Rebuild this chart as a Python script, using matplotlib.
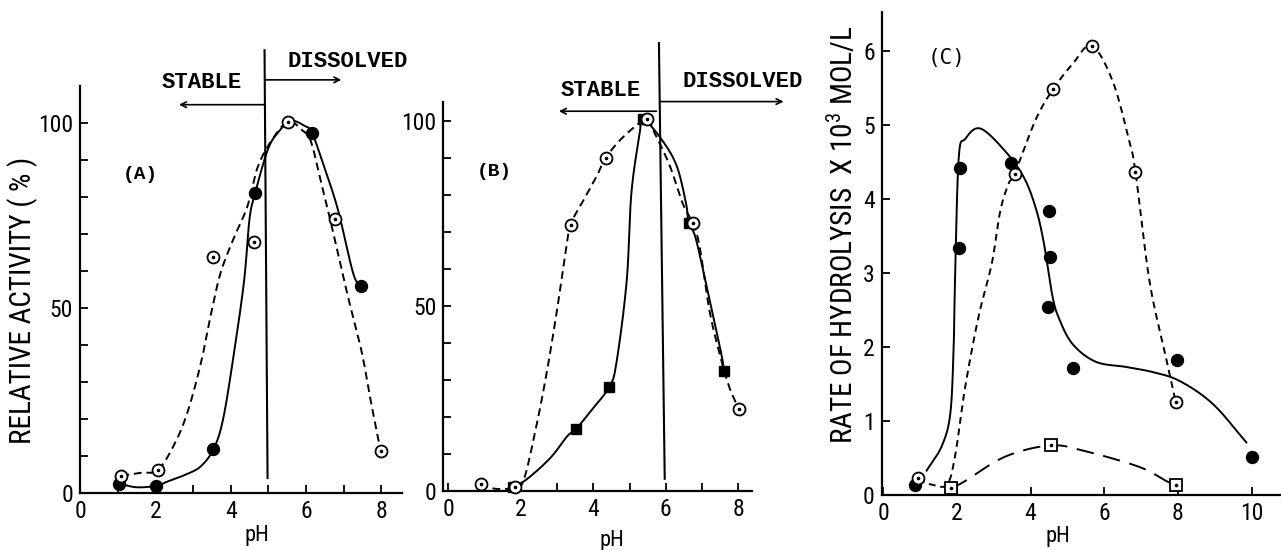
import numpy as np
import matplotlib
matplotlib.use("Agg")
import matplotlib.pyplot as plt
from matplotlib import font_manager

# ---------------- data ----------------
# Panel A : relative activity (%) vs pH
A_filled_x = [1.04, 2.03, 3.54, 4.65, 6.16, 7.45]
A_filled_y = [2.6, 2.0, 11.8, 81.0, 97.3, 55.9]
A_open_x = [1.10, 2.06, 3.54, 4.61, 5.52, 6.78, 7.98]
A_open_y = [4.7, 6.2, 63.9, 67.7, 100.3, 74.1, 11.5]
# hand-drawn curves (points along the drawn lines)
A_solid_cx = [1.04, 1.5, 2.03, 2.31, 2.8, 3.2, 3.54, 3.8, 4.1, 4.36, 4.5, 4.65, 4.98, 5.25, 5.6, 5.96, 6.16, 6.49, 6.85, 7.25, 7.45]
A_solid_cy = [2.6, 1.6, 2.0, 3.1, 5.0, 7.2, 11.8, 20.0, 38.6, 57.6, 74.0, 81.0, 92.6, 97.3, 100.5, 99.2, 97.3, 87.9, 76.5, 59.5, 55.9]
A_dash_cx = [1.10, 1.6, 2.06, 2.48, 2.84, 3.2, 3.47, 3.73, 4.08, 4.44, 4.71, 5.07, 5.52, 5.9, 6.13, 6.4, 6.67, 7.1, 7.47, 7.73, 7.98]
A_dash_cy = [4.7, 5.5, 6.2, 12.7, 21.4, 34.7, 48.0, 59.4, 68.8, 77.3, 87.8, 95.0, 100.3, 98.0, 95.0, 84.0, 72.7, 53.7, 38.6, 24.4, 11.5]

# Panel B
B_open_x = [0.89, 1.83, 3.37, 4.34, 5.47, 6.74, 8.02]
B_open_y = [1.9, 0.95, 71.9, 90.0, 100.5, 72.4, 22.1]
B_sq_x = [1.77, 3.52, 4.44, 5.36, 6.63, 7.61]
B_sq_y = [0.95, 16.7, 28.1, 100.5, 72.4, 32.4]
B_dash_cx = [0.89, 1.3, 1.83, 2.09, 2.45, 2.73, 3.0, 3.23, 3.37, 3.73, 4.1, 4.34, 4.83, 5.47, 5.65, 6.1, 6.47, 6.74, 6.93, 7.2, 7.47, 7.75, 8.02]
B_dash_cy = [1.9, 0.6, 0.95, 3.3, 18.6, 32.9, 49.0, 64.3, 71.9, 78.6, 85.2, 90.0, 95.7, 100.5, 97.5, 88.1, 77.6, 72.4, 66.2, 49.0, 37.6, 28.1, 22.1]
B_solid_cx = [1.77, 2.18, 2.82, 3.28, 3.52, 3.91, 4.44, 4.64, 4.92, 5.05, 5.28, 5.36, 5.83, 6.29, 6.56, 6.63, 6.83, 7.2, 7.52, 7.61]
B_solid_cy = [0.95, 3.3, 9.0, 14.8, 16.7, 21.4, 28.1, 34.8, 56.7, 80.5, 96.7, 100.5, 95.7, 88.1, 77.6, 72.4, 68.1, 51.9, 37.6, 32.4]

# Panel C : rate of hydrolysis x 10^3 mol/L vs pH
C_filled_x = [0.86, 2.05, 2.08, 3.47, 4.50, 4.52, 4.48, 5.16, 7.98, 10.0]
C_filled_y = [0.13, 3.34, 4.42, 4.49, 3.84, 3.21, 2.54, 1.71, 1.82, 0.52]
C_open_x = [0.94, 3.57, 4.61, 5.66, 6.85, 7.94]
C_open_y = [0.23, 4.34, 5.48, 6.07, 4.36, 1.26]
C_sq_x = [1.85, 4.55, 7.95]
C_sq_y = [0.09, 0.67, 0.13]
C_solid_cx = [1.18, 1.59, 1.82, 1.91, 1.95, 2.05, 2.23, 2.64, 3.32, 3.82, 4.14, 4.36, 4.59, 4.77, 5.14, 5.77, 6.59, 7.32, 8.05, 8.95, 9.86]
C_solid_cy = [0.33, 0.66, 1.09, 1.94, 2.89, 4.55, 4.81, 4.95, 4.64, 4.29, 3.88, 3.41, 2.70, 2.39, 2.04, 1.80, 1.73, 1.66, 1.54, 1.23, 0.71]
C_dash_cx = [0.95, 1.32, 1.73, 1.95, 2.23, 2.59, 2.95, 3.18, 3.41, 3.57, 4.14, 4.61, 5.14, 5.66, 6.23, 6.68, 6.85, 7.23, 7.68, 7.94]
C_dash_cy = [0.21, 0.14, 0.14, 0.52, 1.47, 2.41, 3.13, 3.84, 4.21, 4.34, 5.07, 5.48, 5.82, 6.07, 5.59, 4.78, 4.36, 2.89, 1.85, 1.26]
C_sqc_x = [1.85, 2.23, 3.32, 4.55, 5.5, 6.95, 7.68, 7.95]
C_sqc_y = [0.09, 0.19, 0.52, 0.67, 0.59, 0.38, 0.19, 0.13]

# ---------------- helpers ----------------
def smooth(xs, ys, n=24):
    P = np.column_stack([xs, ys]).astype(float)
    P = np.vstack([2 * P[0] - P[1], P, 2 * P[-1] - P[-2]])
    out = []
    t = np.linspace(0, 1, n, endpoint=False)[:, None]
    for i in range(1, len(P) - 2):
        p0, p1, p2, p3 = P[i - 1], P[i], P[i + 1], P[i + 2]
        seg = 0.5 * ((2 * p1) + (-p0 + p2) * t + (2 * p0 - 5 * p1 + 4 * p2 - p3) * t ** 2
                     + (-p0 + 3 * p1 - 3 * p2 + p3) * t ** 3)
        out.append(seg)
    out.append(P[-2][None])
    Q = np.vstack(out)
    return Q[:, 0], Q[:, 1]

avail = {f.name for f in font_manager.fontManager.ttflist}
NARROW = None
for cand in ("Liberation Sans Narrow", "Roboto Condensed", "Open Sans Condensed",
             "DejaVu Sans Condensed", "Liberation Sans"):
    if cand in avail:
        NARROW = dict(family=cand)
        break
if NARROW is None:
    NARROW = dict(family="DejaVu Sans")
MONO = dict(family="Liberation Mono", weight="bold")

plt.rcParams["font.family"] = NARROW["family"]
plt.rcParams["mathtext.fontset"] = "custom"
plt.rcParams["mathtext.rm"] = NARROW["family"]
TICKFS = 17
LW = 1.4
MS = 8.6

fig = plt.figure(figsize=(12.81, 5.5), dpi=100)

def style_axes(ax):
    for s in ("top", "right"):
        ax.spines[s].set_visible(False)
    for s in ("left", "bottom"):
        ax.spines[s].set_linewidth(1.6)
    ax.tick_params(which="both", direction="in", length=6, width=1.3, pad=5, labelsize=TICKFS)
    for lab in ax.get_xticklabels() + ax.get_yticklabels():
        lab.set_fontproperties(font_manager.FontProperties(size=TICKFS, **NARROW))

def filled_circles(ax, x, y):
    ax.plot(x, y, linestyle="none", marker="o", ms=MS, mfc="black", mec="black", zorder=5, clip_on=False)

def open_circles(ax, x, y):
    ax.plot(x, y, linestyle="none", marker="o", ms=MS, mfc="white", mec="black", mew=1.3, zorder=6, clip_on=False)
    ax.plot(x, y, linestyle="none", marker="o", ms=1.6, mfc="black", mec="black", zorder=7, clip_on=False)

def filled_squares(ax, x, y):
    ax.plot(x, y, linestyle="none", marker="s", ms=MS - 0.8, mfc="black", mec="black", zorder=5, clip_on=False)

def open_squares(ax, x, y):
    ax.plot(x, y, linestyle="none", marker="s", ms=MS - 0.6, mfc="white", mec="black", mew=1.3, zorder=6, clip_on=False)
    ax.plot(x, y, linestyle="none", marker="o", ms=1.6, mfc="black", mec="black", zorder=7, clip_on=False)

def curve(ax, xs, ys, dashes=None):
    sx, sy = smooth(xs, ys)
    ln, = ax.plot(sx, sy, color="black", lw=LW, zorder=3, clip_on=False)
    if dashes:
        ln.set_dashes(dashes)

def arrow(ax, x0, x1, y):
    ax.annotate("", xy=(x1, y), xytext=(x0, y), annotation_clip=False,
                arrowprops=dict(arrowstyle="->", lw=1.2, color="black", shrinkA=0, shrinkB=0,
                                mutation_scale=10))

# ---------------- Panel A ----------------
axA = fig.add_axes([80 / 1281, (550 - 493.2) / 550, 322 / 1281, 407.4 / 550])
axA.set_xlim(0, 8.55)
axA.set_ylim(0, 110)
axA.set_xticks(range(0, 9, 2))
axA.set_xticks(range(0, 9), minor=True)
axA.set_yticks([0, 50, 100])
axA.set_yticks(range(0, 110, 10), minor=True)
style_axes(axA)
curve(axA, A_solid_cx, A_solid_cy)
curve(axA, A_dash_cx, A_dash_cy, dashes=(4, 2.5))
filled_circles(axA, A_filled_x, A_filled_y)
open_circles(axA, A_open_x, A_open_y)
axA.plot([4.90, 4.98], [119.6, 4.1], color="black", lw=1.5, clip_on=False)
arrow(axA, 4.90, 2.63, 104.9)
arrow(axA, 4.94, 6.94, 111.6)
axA.text(3.23, 110.8, "STABLE", ha="center", va="center", fontsize=16, **MONO)
axA.text(7.11, 116.5, "DISSOLVED", ha="center", va="center", fontsize=16, **MONO)
axA.text(1.61, 86, "(A)", ha="center", va="center", fontsize=14, **MONO)
axA.text(-0.177, 0.474, "RELATIVE ACTIVITY ( % )", transform=axA.transAxes, rotation=90,
         ha="center", va="center", fontsize=21, **NARROW)
axA.text(0.55, -0.103, "pH", transform=axA.transAxes, ha="center", va="center", fontsize=16, **NARROW)

# ---------------- Panel B ----------------
axB = fig.add_axes([443.3 / 1281, (550 - 491) / 550, 308.4 / 1281, 389.4 / 550])
axB.set_xlim(-0.14, 8.37)
axB.set_ylim(0, 105.2)
axB.set_xticks(range(0, 9, 2))
axB.set_xticks(range(0, 9), minor=True)
axB.set_yticks([0, 50, 100])
axB.set_yticks(range(0, 101, 10), minor=True)
style_axes(axB)
curve(axB, B_solid_cx, B_solid_cy)
curve(axB, B_dash_cx, B_dash_cy, dashes=(4, 2.5))
open_circles(axB, B_open_x, B_open_y)
filled_squares(axB, B_sq_x, B_sq_y)
axB.plot([5.81, 5.97], [121, 3.3], color="black", lw=1.5, clip_on=False)
arrow(axB, 5.74, 3.05, 102.6)
arrow(axB, 5.83, 9.25, 105.2)
axB.text(4.21, 108.3, "STABLE", ha="center", va="center", fontsize=16, **MONO)
axB.text(8.11, 110.7, "DISSOLVED", ha="center", va="center", fontsize=16, **MONO)
axB.text(1.27, 86.2, "(B)", ha="center", va="center", fontsize=14, **MONO)
axB.text(0.546, -0.126, "pH", transform=axB.transAxes, ha="center", va="center", fontsize=16, **NARROW)

# ---------------- Panel C ----------------
axC = fig.add_axes([881.7 / 1281, (550 - 495) / 550, 399.3 / 1281, 482.7 / 550])
axC.set_xlim(-0.04, 10.8)
axC.set_ylim(0, 6.52)
axC.set_xticks(range(0, 11, 2))
axC.set_yticks(range(0, 7))
style_axes(axC)
curve(axC, C_solid_cx, C_solid_cy)
curve(axC, C_dash_cx, C_dash_cy, dashes=(3.5, 2.5))
curve(axC, C_sqc_x, C_sqc_y, dashes=(9, 5))
filled_circles(axC, C_filled_x, C_filled_y)
open_circles(axC, C_open_x, C_open_y)
open_squares(axC, C_sq_x, C_sq_y)
axC.text(1.73, 5.9, "(C)", ha="center", va="center", fontsize=15, family="DejaVu Sans Mono")
axC.text(-0.0994, 0.539, "RATE OF HYDROLYSIS  X 10$^3$ MOL/L", transform=axC.transAxes, rotation=90,
         ha="center", va="center", fontsize=21, **NARROW)
axC.text(0.4415, -0.087, "pH", transform=axC.transAxes, ha="center", va="center", fontsize=16, **NARROW)

fig.savefig("out.png", dpi=100)
